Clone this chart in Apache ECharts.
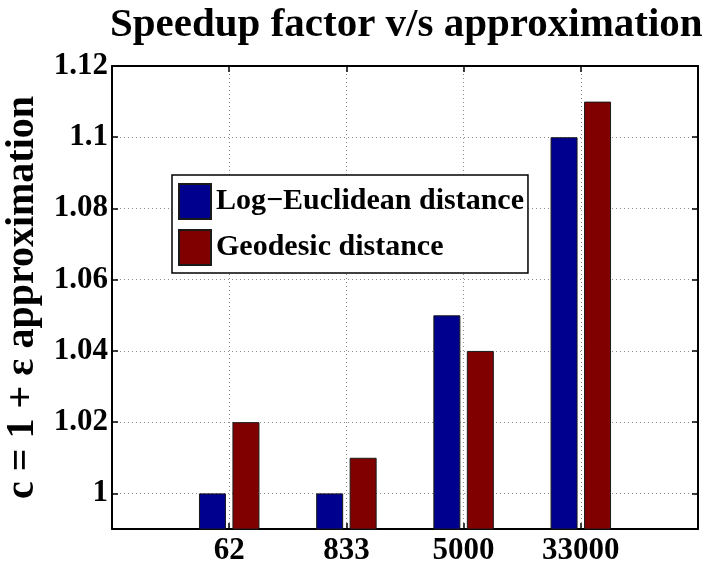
<!DOCTYPE html>
<html>
<head>
<meta charset="utf-8">
<script src="https://cdn.jsdelivr.net/npm/echarts@6/dist/echarts.min.js"></script>
<style>
html,body{margin:0;padding:0;background:#fff;}
#chart{width:702px;height:562px;}
</style>
</head>
<body>
<div id="chart"></div>
<script>
// ---- data ----
const categories = ['', '62', '833', '5000', '33000', ''];
const logEuclidean = ['-', 1.00, 1.00, 1.05, 1.10, '-'];
const geodesic = ['-', 1.02, 1.01, 1.04, 1.11, '-'];
const yTicks = [1, 1.02, 1.04, 1.06, 1.08, 1.1, 1.12];
const seriesNames = ['Log\u2212Euclidean distance', 'Geodesic distance'];
const titleText = 'Speedup factor v/s approximation';
const yName = 'c = 1 + \u03b5 approximation';

const FONT = "'Liberation Serif', 'Times New Roman', serif";
const chart = echarts.init(document.getElementById('chart'), null, {renderer: 'canvas'});

const gridLine = {show: true, lineStyle: {color: '#8c8c8c', width: 1, type: [1, 3]}};
const axisLineStyle = {show: true, onZero: false, lineStyle: {color: '#000', width: 2}};

chart.setOption({
  animation: false,
  backgroundColor: '#fff',
  title: {
    text: titleText,
    left: 110,
    top: 5,
    padding: 0,
    textStyle: {fontFamily: FONT, fontWeight: 'bold', fontSize: 41, color: '#000'}
  },
  legend: {
    orient: 'vertical',
    left: 172,
    top: 175,
    padding: [8, 4, 7, 6],
    itemWidth: 32,
    itemHeight: 35,
    itemGap: 9,
    backgroundColor: '#fff',
    borderColor: '#000',
    borderWidth: 1.5,
    icon: 'rect',
    textStyle: {fontFamily: FONT, fontWeight: 'bold', fontSize: 30, color: '#000'},
    data: seriesNames
  },
  grid: {left: 112, right: 4, top: 66, bottom: 33, containLabel: false, outerBoundsMode: 'none'},
  xAxis: [{
    type: 'category',
    data: categories,
    boundaryGap: false,
    axisLine: axisLineStyle,
    axisTick: {show: true, inside: true, length: 6, lineStyle: {color: '#000', width: 1.5}},
    axisLabel: {show: true, margin: 6, interval: 0, fontFamily: FONT, fontWeight: 'bold', fontSize: 31, color: '#000'},
    splitLine: gridLine
  }, {
    type: 'category',
    data: categories,
    boundaryGap: false,
    position: 'top',
    axisLine: axisLineStyle,
    axisTick: {show: true, inside: true, length: 6, lineStyle: {color: '#000', width: 1.5}},
    axisLabel: {show: false},
    splitLine: {show: false}
  }],
  yAxis: [{
    type: 'value',
    min: 0.99,
    max: 1.12,
    name: yName,
    nameLocation: 'middle',
    nameRotate: 90,
    nameGap: 69,
    nameTextStyle: {fontFamily: FONT, fontWeight: 'bold', fontSize: 40, color: '#000'},
    axisLine: axisLineStyle,
    axisTick: {show: true, inside: true, length: 6, customValues: yTicks, lineStyle: {color: '#000', width: 1.5}},
    axisLabel: {show: true, margin: 4, customValues: yTicks, fontFamily: FONT, fontWeight: 'bold', fontSize: 31, color: '#000'},
    splitLine: gridLine
  }, {
    type: 'value',
    min: 0.99,
    max: 1.12,
    position: 'right',
    axisLine: axisLineStyle,
    axisTick: {show: true, inside: true, length: 6, customValues: yTicks, lineStyle: {color: '#000', width: 1.5}},
    axisLabel: {show: false},
    splitLine: {show: false}
  }],
  series: [{
    name: seriesNames[0],
    type: 'bar',
    data: logEuclidean,
    barWidth: 27,
    barGap: '24%',
    itemStyle: {color: '#00008f', borderColor: '#1a1a1a', borderWidth: 1}
  }, {
    name: seriesNames[1],
    type: 'bar',
    data: geodesic,
    barWidth: 27,
    barGap: '24%',
    itemStyle: {color: '#800000', borderColor: '#1a1a1a', borderWidth: 1}
  }]
});
</script>
</body>
</html>
